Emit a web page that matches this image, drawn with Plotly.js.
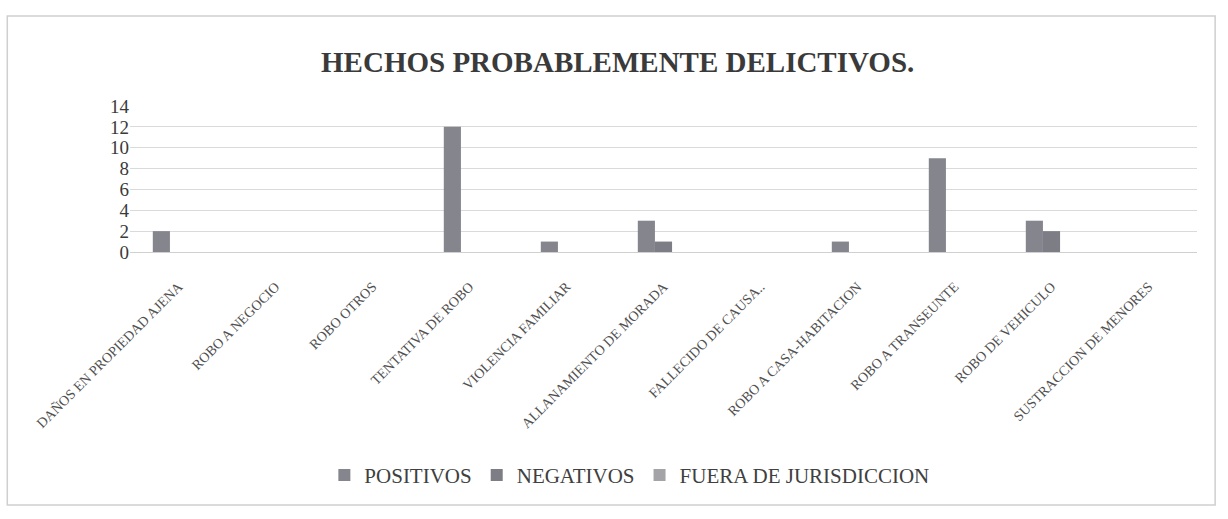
<!DOCTYPE html>
<html>
<head>
<meta charset="utf-8">
<script src="https://cdn.plot.ly/plotly-3.0.1.min.js"></script>
<style>html,body{margin:0;padding:0;background:#fff;}#chart{width:1228px;height:519px;}</style>
</head>
<body>
<div id="chart"></div>
<script>
const categories = [
  "DAÑOS EN PROPIEDAD AJENA",
  "ROBO A NEGOCIO",
  "ROBO OTROS",
  "TENTATIVA DE ROBO",
  "VIOLENCIA FAMILIAR",
  "ALLANAMIENTO DE MORADA",
  "FALLECIDO DE CAUSA..",
  "ROBO A CASA-HABITACION",
  "ROBO A TRANSEUNTE",
  "ROBO DE VEHICULO",
  "SUSTRACCION DE MENORES"
];
const positivos = [2, 0, 0, 12, 1, 3, 0, 1, 9, 3, 0];
const negativos = [0, 0, 0, 0, 0, 1, 0, 0, 0, 2, 0];
const fueraDeJurisdiccion = [0, 0, 0, 0, 0, 0, 0, 0, 0, 0, 0];
const yTicks = [0, 2, 4, 6, 8, 10, 12, 14];

const serif = "Liberation Serif, DejaVu Serif, serif";
const traces = [
  {type: "bar", name: "POSITIVOS", x: categories, y: positivos, marker: {color: "#85858e"}},
  {type: "bar", name: "NEGATIVOS", x: categories, y: negativos, marker: {color: "#7d7d86"}},
  {type: "bar", name: "FUERA DE JURISDICCION", x: categories, y: fueraDeJurisdiccion, marker: {color: "#a4a4a8"}}
];

const layout = {
  width: 1228, height: 519,
  margin: {l: 130, r: 31, t: 106, b: 267, pad: 0},
  paper_bgcolor: "#ffffff", plot_bgcolor: "#ffffff",
  title: {text: "<b>HECHOS PROBABLEMENTE DELICTIVOS.</b>", x: 0.503, xanchor: "center", y: 0.88, yanchor: "middle",
          font: {family: serif, size: 29, color: "#3a3a3a"}},
  barmode: "group", bargap: 0.47, bargroupgap: 0,
  showlegend: true,
  legend: {orientation: "h", x: 0.468, xanchor: "center", y: -1.53, yanchor: "middle",
           font: {family: serif, size: 21, color: "#404040"}, traceorder: "normal", itemwidth: 30},
  xaxis: {type: "category", tickangle: -45, tickfont: {family: serif, size: 14, color: "#505050"},
          showline: false, showgrid: false, ticks: "outside", ticklen: 20, tickcolor: "rgba(0,0,0,0)",
          zeroline: false, fixedrange: true},
  yaxis: {range: [0, 14], tickvals: yTicks, ticktext: yTicks.map(String), showgrid: true, gridcolor: "#dadada", gridwidth: 1,
          zeroline: true, zerolinecolor: "#d0d0d0", ticks: "", showline: false,
          tickfont: {family: serif, size: 19, color: "#3a3a3a"}, fixedrange: true},
  shapes: [
    {type: "rect", xref: "paper", yref: "paper", x0: -0.115, x1: 1.017, y0: -1.733, y1: 1.616,
     line: {color: "#cfcfcf", width: 1.5}, fillcolor: "rgba(0,0,0,0)", layer: "below"}
  ]
};

Plotly.newPlot("chart", traces, layout, {displayModeBar: false, staticPlot: true});
</script>
</body>
</html>
